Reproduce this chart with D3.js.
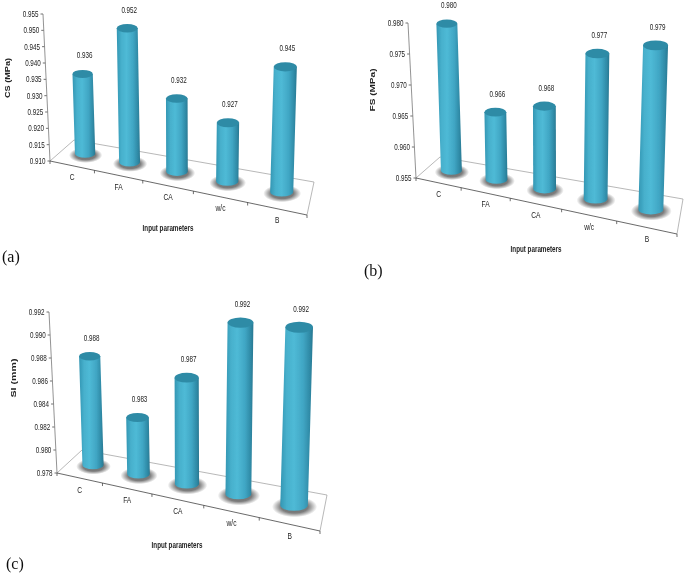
<!DOCTYPE html>
<html><head><meta charset="utf-8">
<script src="https://cdn.jsdelivr.net/npm/d3@7/dist/d3.min.js"></script>
<style>html,body{margin:0;padding:0;background:#fff}svg{display:block}</style>
</head><body><svg id="c" width="685" height="575"></svg>
<script>
const categories = ["C","FA","CA","w/c","B"];
const csValues = [0.936,0.952,0.932,0.927,0.945];
const fsValues = [0.980,0.966,0.968,0.977,0.979];
const siValues = [0.988,0.983,0.987,0.992,0.992];
const csTicks = [0.910,0.915,0.920,0.925,0.930,0.935,0.940,0.945,0.950,0.955];
const fsTicks = [0.955,0.960,0.965,0.970,0.975,0.980];
const siTicks = [0.978,0.980,0.982,0.984,0.986,0.988,0.990,0.992];
const edgeFractions = [0,0.173,0.361,0.558,0.769,1];

const panels = [
 {values:csValues,ticks:csTicks,title:"CS (MPa)",tag:"(a)",tagPos:[2,262],
  O:[50,161],R:[307,215],BL:[74,140],BR:[314,182],top:[43,14],h0:138,dh:5.7,w0:20,dw:3.5,
  titlePos:[9.5,78],titleLen:40,xtitle:[168,231]},
 {values:fsValues,ticks:fsTicks,title:"FS (MPa)",tag:"(b)",tagPos:[364,276],
  O:[416,178],R:[677,234],BL:[440,157],BR:[683,199],top:[408,23],h0:147,dh:6,w0:20.5,dw:5,
  titlePos:[375,90],titleLen:43,xtitle:[536,252]},
 {values:siValues,ticks:siTicks,title:"SI (mm)",tag:"(c)",tagPos:[6,569],
  O:[57,473],R:[320,531],BL:[82,450],BR:[327,495],top:[49,312],h0:152,dh:6.5,w0:20.5,dw:8,
  titlePos:[15.5,378],titleLen:39,xtitle:[177,548]}
];

const svg = d3.select("#c");
const defs = svg.append("defs");
const body = defs.append("linearGradient").attr("id","body");
[[0,"#3396b3"],[0.2,"#47b0cc"],[0.42,"#4fbad6"],[0.7,"#40a6c4"],[0.9,"#2f8aa6"],[1,"#2a7891"]]
 .forEach(s=>body.append("stop").attr("offset",s[0]).attr("stop-color",s[1]));
const shadow = defs.append("radialGradient").attr("id","shadow");
[[0,"#6a6a6a"],[0.6,"#7c7c7c"],[0.82,"#c4c4c4"],[1,"#fff"]]
 .forEach(s=>shadow.append("stop").attr("offset",s[0]).attr("stop-color",s[1]));
defs.append("filter").attr("id","soft").append("feGaussianBlur").attr("stdDeviation",0.35);

const root = svg.append("g").attr("filter","url(#soft)");
const sans = "'Liberation Sans',Arial,sans-serif";
// condense a text horizontally, as the reference's narrow labels are
const condense = (sel,f)=>sel.each(function(){
  d3.select(this).attr("textLength",this.getComputedTextLength()*f).attr("lengthAdjust","spacingAndGlyphs");
});

panels.forEach(p=>{
  const g = root.append("g");
  const idx = d3.range(edgeFractions.length);
  const t = d3.scaleLinear().domain(idx).range(edgeFractions);
  const fx = d3.scaleLinear().domain([0,1]).range([p.O[0],p.R[0]]);
  const fy = d3.scaleLinear().domain([0,1]).range([p.O[1],p.R[1]]);
  const dx = d3.scaleLinear().domain([0,1]).range([p.BL[0]-p.O[0],p.BR[0]-p.R[0]]);
  const dy = d3.scaleLinear().domain([0,1]).range([p.BL[1]-p.O[1],p.BR[1]-p.R[1]]);
  const dom = d3.extent(p.ticks);
  const axisY = d3.scaleLinear().domain(dom).range([p.O[1],p.top[1]]);
  const axisX = d3.scaleLinear().domain(dom).range([p.O[0],p.top[0]]);
  const frac = d3.scaleLinear().domain(dom).range([0,1]);

  g.append("path").attr("fill","none").attr("stroke","#999").attr("stroke-width",0.7)
   .attr("d",d3.line()([p.O,p.BL,p.BR,p.R]));

  const ya = g.append("g").call(d3.axisLeft(axisY).tickValues(p.ticks).tickFormat(d3.format(".3f")).tickSize(2.5).tickPadding(2));
  ya.select(".domain").remove();
  ya.selectAll(".tick").attr("transform",d=>`translate(${axisX(d)},${axisY(d)})`);
  ya.selectAll(".tick line").attr("stroke","#333").attr("stroke-width",0.7);
  ya.selectAll(".tick text").attr("font-family",sans).attr("font-size",9.5).attr("fill","#222").call(condense,0.66);
  g.append("line").attr("x1",p.O[0]).attr("y1",p.O[1]).attr("x2",p.top[0]).attr("y2",p.top[1])
   .attr("stroke","#777").attr("stroke-width",0.8);

  g.append("line").attr("x1",p.O[0]).attr("y1",p.O[1]).attr("x2",p.R[0]).attr("y2",p.R[1])
   .attr("stroke","#444").attr("stroke-width",0.8);
  g.selectAll(".xt").data(idx).join("line")
   .attr("x1",i=>fx(t(i))).attr("y1",i=>fy(t(i)))
   .attr("x2",i=>fx(t(i))).attr("y2",i=>fy(t(i))+3)
   .attr("stroke","#333").attr("stroke-width",0.7);
  const mid = i=>(t(i)+t(i+1))/2;
  g.selectAll(".xl").data(categories).join("text")
   .attr("x",(d,i)=>fx(mid(i))).attr("y",(d,i)=>fy(mid(i))+14.5)
   .attr("text-anchor","middle").attr("font-family",sans).attr("font-size",9.5).attr("fill","#222").text(d=>d).call(condense,0.7);

  const bars = p.values.map((v,i)=>{
    const m = mid(i), w = p.w0+p.dw*m, ry = w*0.2;
    const bx = fx(m)+dx(m)*0.45+3*(1-m), by = fy(m)+dy(m)*0.45-ry+2;
    const h = frac(v)*(p.h0+p.dh*i);
    const lean = (m-0.5)*7.5*h/100;
    return {v,w,ry,bx,by,tx:bx+lean,ty:by-h};
  });
  g.selectAll(".sh").data(bars).join("ellipse")
   .attr("cx",b=>b.bx+0.5).attr("cy",b=>b.by+1.5).attr("rx",b=>b.w*0.82).attr("ry",b=>b.ry*1.9).attr("fill","url(#shadow)");
  g.selectAll(".bd").data(bars).join("path").attr("fill","url(#body)")
   .attr("d",b=>{const r=b.w/2;
     return `M${b.tx-r},${b.ty}L${b.bx-r},${b.by}A${r},${b.ry} 0 0 0 ${b.bx+r},${b.by}L${b.tx+r},${b.ty}Z`;});
  g.selectAll(".tp").data(bars).join("ellipse")
   .attr("cx",b=>b.tx).attr("cy",b=>b.ty).attr("rx",b=>b.w/2).attr("ry",b=>b.ry).attr("fill","#2f8ba6");
  g.selectAll(".vl").data(bars).join("text")
   .attr("x",b=>b.tx+2).attr("y",b=>b.ty-15.5)
   .attr("text-anchor","middle").attr("font-family",sans).attr("font-size",9.5).attr("fill","#222")
   .text(b=>d3.format(".3f")(b.v)).call(condense,0.66);

  g.append("text").attr("transform",`translate(${p.titlePos[0]},${p.titlePos[1]}) rotate(-90)`)
   .attr("text-anchor","middle").attr("font-family",sans)
   .attr("font-size",6.5).attr("font-weight","bold").attr("fill","#222").text(p.title)
   .attr("textLength",p.titleLen).attr("lengthAdjust","spacingAndGlyphs");
  g.append("text").attr("x",p.xtitle[0]).attr("y",p.xtitle[1]).attr("text-anchor","middle")
   .attr("font-family",sans).attr("font-size",9.5).attr("font-weight","bold").attr("fill","#222").text("Input parameters").call(condense,0.66);
  g.append("text").attr("x",p.tagPos[0]).attr("y",p.tagPos[1])
   .attr("font-family","'Liberation Serif','Times New Roman',serif").attr("font-size",16).attr("fill","#111").text(p.tag);
});
</script></body></html>
